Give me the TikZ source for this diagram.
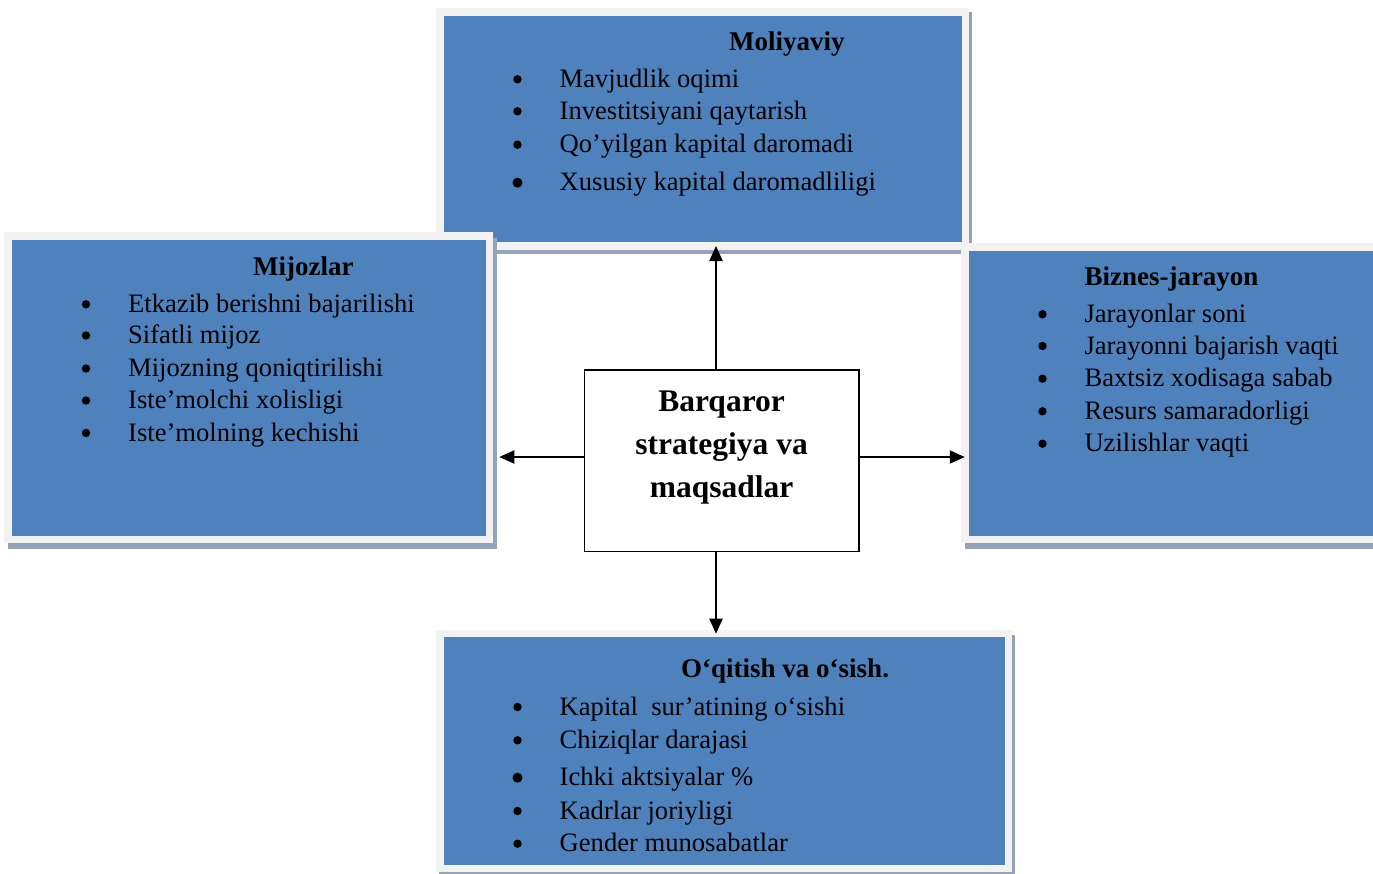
\documentclass[tikz,border=0pt]{standalone}
\usepackage{fontspec}
\setmainfont{Liberation Serif}
\usetikzlibrary{arrows.meta,calc}
\definecolor{boxblue}{HTML}{4F81BD}
\definecolor{framegray}{HTML}{F2F2F2}
\definecolor{shadowgray}{HTML}{95A3B7}
\begin{document}
\begin{tikzpicture}[x=1pt,y=-1pt,
  panel/.style={rectangle, fill=boxblue, draw=framegray, line width=7.5pt, outer sep=0pt, inner sep=0pt},
  core/.style={rectangle, fill=white, draw=black, line width=1.3pt, inner sep=0pt, outer sep=0pt, align=center,
    font=\fontsize{31.5}{43}\selectfont\bfseries},
  itemtxt/.style={anchor=base west, inner sep=0pt, font=\fontsize{26.6}{33}\selectfont},
  headtxt/.style={anchor=base west, inner sep=0pt, font=\fontsize{27}{33}\selectfont\bfseries},
  bul/.style={fill=black},
  arr/.style={-{Triangle[length=15pt,width=13pt]}, line width=1.9pt},
  shad/.style={fill=shadowgray}]
\useasboundingbox (0,0) rectangle (1373,873);
\clip (0,0) rectangle (1373,873);

% Moliyaviy
\fill[shad] (439,12) rectangle (972,254);
\node[panel, minimum width=525.5pt, minimum height=234pt] (fin) at (702.5,129) {};
% Mijozlar
\fill[shad] (8,238) rectangle (497,549);
\node[panel, minimum width=481.5pt, minimum height=303.5pt] (cust) at (248.5,387.5) {};
% Biznes-jarayon
\fill[shad] (965,249) rectangle (1380,549);
\node[panel, minimum width=415.25pt, minimum height=292.5pt] (proc) at (1172.4,393.25) {};
% O'qitish
\fill[shad] (439,635) rectangle (1015,880);
\node[panel, minimum width=568.5pt, minimum height=234.75pt] (learn) at (724,751.1) {};

% centre
\node[core, minimum width=274.7pt, minimum height=181.7pt] (core) at (721.65,460.85) {};
\node[inner sep=0pt, anchor=base, font=\fontsize{31.5}{43}\selectfont\bfseries] (c1) at (721.6,411.7) {Barqaror};
\node[inner sep=0pt, anchor=base, font=\fontsize{31.5}{43}\selectfont\bfseries] (c2) at (721.6,454.7) {strategiya va};
\node[inner sep=0pt, anchor=base, font=\fontsize{31.5}{43}\selectfont\bfseries] (c3) at (721.6,497.7) {maqsadlar};

% arrows
\coordinate (vx) at (716,0);
\coordinate (hy) at (0,457);
\draw[arr] (vx |- core.north) -- (vx |- fin.south);
\draw[arr] (vx |- core.south) -- (vx |- learn.north);
\draw[arr, shorten >=10pt] (core.west |- hy) -- (cust.east |- hy);
\draw[arr] (core.east |- hy) -- (proc.west |- hy);

% Moliyaviy text
\node[headtxt] (fh) at (729,50) {Moliyaviy};
\fill[bul] (517.5,79.3) circle (4.2);
\node[itemtxt] (f1) at (559.5,87.3) {Mavjudlik oqimi};
\fill[bul] (517.5,111.3) circle (4.2);
\node[itemtxt] (f2) at (559.5,119.3) {Investitsiyani qaytarish};
\fill[bul] (517.5,144.7) circle (4.2);
\node[itemtxt] (f3) at (559.5,152.7) {Qo’yilgan kapital daromadi};
\fill[bul] (517.5,182.7) circle (5);
\node[itemtxt] (f4) at (559.5,190.7) {Xususiy kapital daromadliligi};

% Mijozlar text
\node[headtxt] (mh) at (253,275) {Mijozlar};
\fill[bul] (86,304.3) circle (4.2);
\node[itemtxt] (m1) at (128,312.3) {Etkazib berishni bajarilishi};
\fill[bul] (86,335.5) circle (4.2);
\node[itemtxt] (m2) at (128,343.5) {Sifatli mijoz};
\fill[bul] (86,368.5) circle (4.2);
\node[itemtxt] (m3) at (128,376.5) {Mijozning qoniqtirilishi};
\fill[bul] (86,400.5) circle (4.2);
\node[itemtxt] (m4) at (128,408.5) {Iste’molchi xolisligi};
\fill[bul] (86,433) circle (4.2);
\node[itemtxt] (m5) at (128,441) {Iste’molning kechishi};

% Biznes-jarayon text
\node[headtxt] (bh) at (1084.3,285) {Biznes-jarayon};
\fill[bul] (1042.5,314.3) circle (4.2);
\node[itemtxt] (b1) at (1084.3,322.3) {Jarayonlar soni};
\fill[bul] (1042.5,346) circle (4.2);
\node[itemtxt] (b2) at (1084.3,354) {Jarayonni bajarish vaqti};
\fill[bul] (1042.5,378.7) circle (4.2);
\node[itemtxt] (b3) at (1084.3,386.7) {Baxtsiz xodisaga sabab};
\fill[bul] (1042.5,411.3) circle (4.2);
\node[itemtxt] (b4) at (1084.3,419.3) {Resurs samaradorligi};
\fill[bul] (1042.5,443.7) circle (4.2);
\node[itemtxt] (b5) at (1084.3,451.7) {Uzilishlar vaqti};

% O'qitish text
\node[headtxt] (lh) at (681,677.3) {O‘qitish va o‘sish.};
\fill[bul] (517.5,707) circle (4.2);
\node[itemtxt] (l1) at (559.5,715) {Kapital\ \ sur’atining o‘sishi};
\fill[bul] (517.5,740.3) circle (4.2);
\node[itemtxt] (l2) at (559.5,748.3) {Chiziqlar darajasi};
\fill[bul] (517.5,777.7) circle (5);
\node[itemtxt] (l3) at (559.5,785.7) {Ichki aktsiyalar \%};
\fill[bul] (517.5,811) circle (4.2);
\node[itemtxt] (l4) at (559.5,819) {Kadrlar joriyligi};
\fill[bul] (517.5,843.7) circle (4.2);
\node[itemtxt] (l5) at (559.5,851.7) {Gender munosabatlar};
\end{tikzpicture}
\end{document}
